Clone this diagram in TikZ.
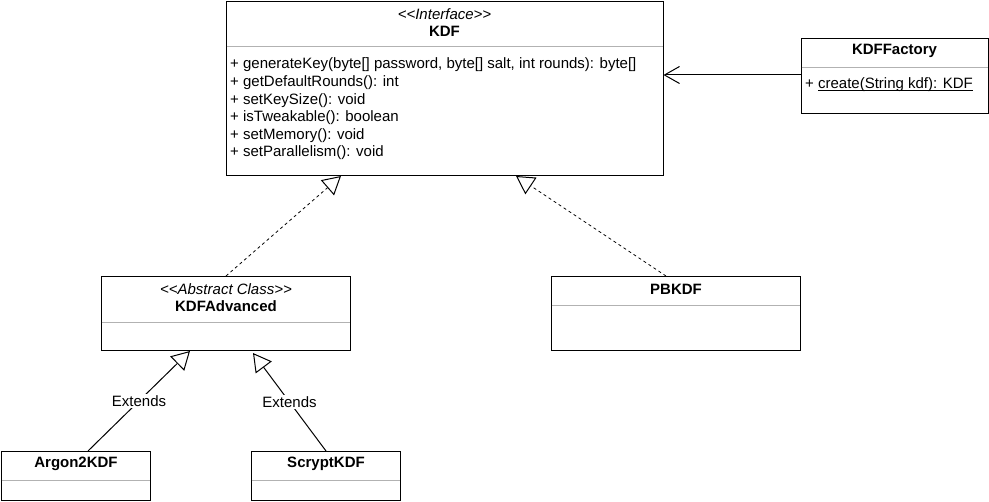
\documentclass[tikz,border=0pt]{standalone}
\usepackage{fontspec}
\setmainfont{Liberation Sans}
\usetikzlibrary{arrows.meta}
\newcommand{\stl}{\textless\kern0pt\textless}
\newcommand{\stg}{\textgreater\kern0pt\textgreater}
\newcommand{\myul}[1]{\setbox0\hbox{#1}\rlap{\raisebox{-2pt}{\rule{\wd0}{0.9pt}}}\box0}
\begin{document}
\begin{tikzpicture}[x=1pt,y=-1pt,
  box/.style={draw=black, line width=1pt, anchor=north west, inner sep=0pt, fill=white},
  sep/.style={draw=black!30, line width=1pt},
  txt/.style={inner sep=0pt, font=\fontsize{15}{18}\selectfont},
  mem/.style={txt, anchor=west},
  ttl/.style={txt, font=\fontsize{15}{18}\selectfont\bfseries},
  ster/.style={txt, font=\fontsize{15}{18}\selectfont\itshape},
  real/.style={draw=black, line width=0.8pt, dash pattern=on 3pt off 3pt, -{Triangle[open, length=18pt, width=20pt, fill=white, line width=1pt]}},
  gen/.style={draw=black, line width=1pt, -{Triangle[open, length=18pt, width=20pt, fill=white]}},
  assoc/.style={draw=black, line width=1pt, -{Straight Barb[length=15pt, width=17pt, line width=1pt]}},
  lbl/.style={txt, fill=white, inner sep=1pt}
]
\useasboundingbox (0,0) rectangle (989,502);
% KDF
\node[box, minimum width=437pt, minimum height=174pt] (kdf) at (226,1) {};
\node[ster] (kdfs) at (444.5,14) {\stl Interface\stg};
\node[ttl] (kdft) at (444.5,31.5) {KDF};
\draw[sep] (226.5,47) -- (662.5,47);
\node[mem] (m1) at (230,65) {+ generateKey(byte[] password, byte[] salt, int rounds): byte[]};
\node[mem] (m2) at (230,83) {+ getDefaultRounds(): int};
\node[mem] (m3) at (230,100.5) {+ setKeySize(): void};
\node[mem] (m4) at (230,118) {+ isTweakable(): boolean};
\node[mem] (m5) at (230,135.5) {+ setMemory(): void};
\node[mem] (m6) at (230,153) {+ setParallelism(): void};
% KDFFactory
\node[box, minimum width=187pt, minimum height=75pt] (fac) at (801,38) {};
\node[ttl] (fact) at (894.5,51) {KDFFactory};
\draw[sep] (801.5,68) -- (987.5,68);
\node[mem] (facm) at (805,85) {+ \myul{create(String kdf): KDF}};
% KDFAdvanced
\node[box, minimum width=249pt, minimum height=74pt] (adv) at (101,276) {};
\node[ster] (advs) at (226,289) {\stl Abstract Class\stg};
\node[ttl] (advt) at (226,306) {KDFAdvanced};
\draw[sep] (101.5,323) -- (349.5,323);
% PBKDF
\node[box, minimum width=249pt, minimum height=74pt] (pbk) at (551,276) {};
\node[ttl] (pbkt) at (676,289) {PBKDF};
\draw[sep] (551.5,306) -- (799.5,306);
% Argon2KDF
\node[box, minimum width=149pt, minimum height=49pt] (arg) at (1,451) {};
\node[ttl] (argt) at (76,464) {Argon2KDF};
\draw[sep] (1.5,481) -- (149.5,481);
% ScryptKDF
\node[box, minimum width=149pt, minimum height=49pt] (scr) at (251,451) {};
\node[ttl] (scrt) at (326,464) {ScryptKDF};
\draw[sep] (251.5,481) -- (399.5,481);
% connectors
\coordinate (facL) at (801,75);
\coordinate (kdfR) at (663.5,75);
\draw[assoc] (facL) -- (kdfR);
\coordinate (advT) at (226,276);
\coordinate (kdfB1) at (341,176);
\draw[real] (advT) -- (kdfB1);
\coordinate (pbkT) at (666,276);
\coordinate (kdfB2) at (516,176);
\draw[real] (pbkT) -- (kdfB2);
\coordinate (argT) at (88,451);
\coordinate (advB1) at (190,351);
\draw[gen] (argT) -- node[lbl] (e1) {Extends} (advB1);
\coordinate (scrT) at (326,451);
\coordinate (advB2) at (253,353);
\draw[gen] (scrT) -- node[lbl] (e2) {Extends} (advB2);
\end{tikzpicture}
\end{document}
